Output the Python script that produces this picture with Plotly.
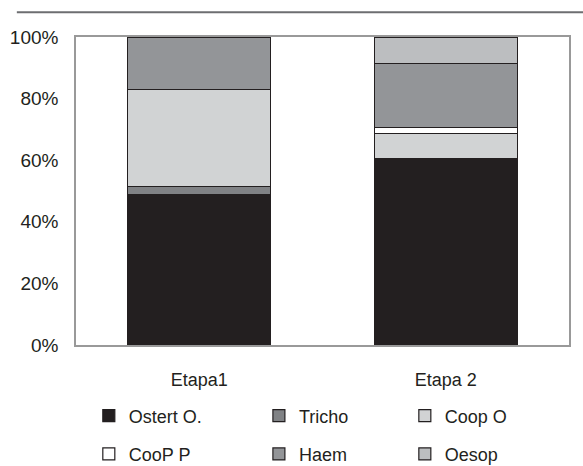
import plotly.graph_objects as go

categories = ['Etapa1', 'Etapa 2']
ostert = [48.7, 60.6]
tricho = [2.7, 0.0]
coop_o = [31.6, 8.1]
coop_p = [0.0, 1.9]
haem = [16.9, 20.8]
oesop = [0.0, 8.4]

FONT = 'Liberation Sans, Arial, sans-serif'
EDGE = '#231f20'

series = [
    ('Ostert O.', ostert, '#231f20', 'legend'),
    ('Tricho', tricho, '#808285', 'legend2'),
    ('Coop O', coop_o, '#d1d3d4', 'legend3'),
    ('CooP P', coop_p, '#ffffff', 'legend'),
    ('Haem', haem, '#939598', 'legend2'),
    ('Oesop', oesop, '#bcbec0', 'legend3'),
]

fig = go.Figure()
for name, vals, color, leg in series:
    fig.add_trace(go.Bar(
        x=categories, y=vals, name=name, legend=leg, legendgroup=name,
        width=0.58, marker=dict(color=color, line=dict(color=EDGE, width=1.2)),
    ))

legend_common = dict(orientation='v', yanchor='top', xanchor='left',
                     font=dict(family=FONT, size=18, color='#231f20'),
                     bgcolor='rgba(0,0,0,0)', tracegroupgap=12, itemclick=False)

fig.update_layout(
    barmode='stack',
    width=583, height=466,
    margin=dict(l=76, r=14, t=37, b=121, autoexpand=False),
    plot_bgcolor='white', paper_bgcolor='white',
    font=dict(family=FONT, size=19, color='#231f20'),
    xaxis=dict(range=[-0.5, 1.5], showline=True, mirror=True, linecolor='#999999',
               linewidth=1.5, ticks='outside', ticklen=18, tickcolor='rgba(0,0,0,0)',
               showgrid=False, tickfont=dict(size=18)),
    yaxis=dict(range=[0, 100], dtick=20, ticksuffix='%', showline=True, mirror=True,
               linecolor='#999999', linewidth=1.5, ticks='outside', ticklen=12,
               tickcolor='rgba(0,0,0,0)', showgrid=False, zeroline=False),
    legend=dict(x=0.026, y=-0.17, **legend_common),
    legend2=dict(x=0.371, y=-0.17, **legend_common),
    legend3=dict(x=0.667, y=-0.17, **legend_common),
    shapes=[dict(type='line', xref='paper', yref='paper', x0=-0.12, x1=1.03,
                 y0=1.08, y1=1.08, line=dict(color='#6d6e71', width=2))],
)

fig.write_html('out.html', config={'displayModeBar': False},
               post_script="document.body.style.margin='0';")
